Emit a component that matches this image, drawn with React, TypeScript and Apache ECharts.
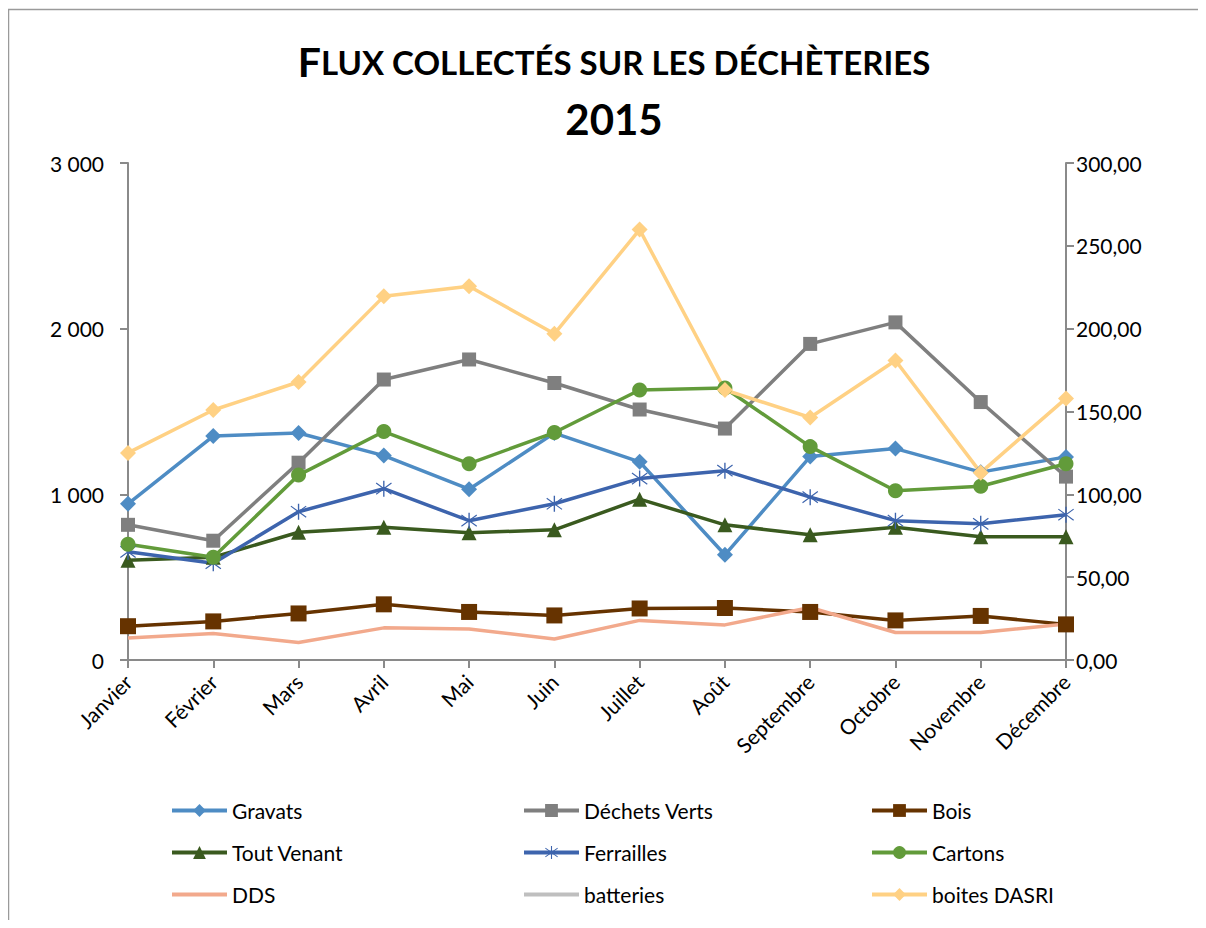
import React, { useEffect, useRef } from "react";
import * as echarts from "echarts";

const months = ["Janvier", "Février", "Mars", "Avril", "Mai", "Juin", "Juillet", "Août", "Septembre", "Octobre", "Novembre", "Décembre"];

const gravats = [943, 1352, 1370, 1234, 1031, 1370, 1196, 635, 1228, 1276, 1134, 1226];
const dechetsVerts = [816, 720, 1191, 1693, 1814, 1672, 1512, 1397, 1908, 2038, 1557, 1107];
const bois = [204, 233, 281, 336, 290, 269, 311, 314, 290, 239, 266, 215];
const toutVenant = [602, 620, 771, 801, 768, 786, 971, 816, 756, 801, 744, 744];
const ferrailles = [653, 584, 895, 1034, 841, 943, 1095, 1143, 983, 841, 822, 877];
const cartons = [699, 620, 1116, 1379, 1185, 1373, 1630, 1642, 1288, 1022, 1049, 1185];
const dds = [133, 160, 106, 194, 187, 127, 239, 212, 317, 166, 166, 218];
const batteries: (number | null)[] = [null, null, null, null, null, null, null, null, null, null, null, null]; // not visible in the picture
const boitesDasri = [125.0, 150.9, 167.8, 219.5, 225.6, 196.9, 259.8, 163.0, 146.4, 180.8, 113.1, 157.9];

const leftTicks = { min: 0, max: 3000, interval: 1000 };
const rightTicks = { min: 0, max: 300, interval: 50 };

const STAR = "path://M9.2,0 L10.8,0 L10.8,20 L9.2,20 Z M0.6,3.6 L1.4,2.4 L19.4,16.4 L18.6,17.6 Z M18.6,2.4 L19.4,3.6 L1.4,17.6 L0.6,16.4 Z";

const FONT = "Lato";

function mk(name: string, data: (number | null)[], color: string, symbol: string, symbolSize: number, yAxisIndex = 0) {
  return {
    name,
    type: "line",
    data,
    yAxisIndex,
    symbol,
    symbolSize,
    showSymbol: symbol !== "none",
    lineStyle: { color, width: 3.5 },
    itemStyle: { color, borderWidth: 0 },
    emphasis: { disabled: true },
  };
}

export default function App() {
  const ref = useRef<HTMLDivElement>(null);
  useEffect(() => {
    if (!ref.current) return;
    const chart = echarts.init(ref.current, null, { renderer: "svg" });
    const axisColor = "#8a8a8a";
    const axisLine = { show: true, lineStyle: { color: axisColor, width: 2 } };
    const axisTick = { show: true, length: 8, lineStyle: { color: axisColor, width: 2 } };
    const axisLabelStyle = { color: "#000", fontFamily: FONT, fontSize: 21 };
    const legendText = { color: "#000", fontFamily: FONT, fontSize: 21, lineHeight: 20 };
    const legendCommon = {
      orient: "vertical",
      top: 787,
      itemWidth: 55,
      itemHeight: 16,
      itemGap: 21,
      textStyle: legendText,
      lineStyle: { width: 4 },
      selectedMode: false,
    };
    const noSymbol = { itemStyle: { opacity: 0 } };
    chart.setOption({
      animation: false,
      backgroundColor: "#fff",
      graphic: [
        {
          type: "polyline",
          shape: { points: [[0.5, 1000], [0.5, 1.5], [1300, 1.5]] },
          style: { fill: "none", stroke: "#9a9a9a", lineWidth: 1.5 },
          silent: true,
        },
      ],
      title: [
        {
          text: "{a|F}{b|LUX COLLECTÉS SUR LES DÉCHÈTERIES}",
          left: 601,
          textAlign: "center",
          top: 28,
          textStyle: {
            rich: {
              a: { fontFamily: FONT, fontWeight: "bold", fontSize: 41, color: "#000" },
              b: { fontFamily: FONT, fontWeight: "bold", fontSize: 33, color: "#000" },
            },
          },
        },
        {
          text: "2015",
          left: 601,
          textAlign: "center",
          top: 85,
          textStyle: { fontFamily: FONT, fontWeight: "bold", fontSize: 42, color: "#000" },
        },
      ],
      grid: { left: 120, top: 155, width: 938, height: 497, containLabel: false },
      xAxis: {
        type: "category",
        data: months,
        boundaryGap: false,
        axisLine,
        axisTick,
        axisLabel: { ...axisLabelStyle, rotate: 45, margin: 18, interval: 0 },
        splitLine: { show: false },
      },
      yAxis: [
        {
          type: "value",
          ...leftTicks,
          axisLine,
          axisTick,
          axisLabel: {
            ...axisLabelStyle,
            margin: 24,
            formatter: (v: number) => (v === 0 ? "0" : String(v).replace(/\B(?=(\d{3})+(?!\d))/g, " ")),
          },
          splitLine: { show: false },
        },
        {
          type: "value",
          ...rightTicks,
          position: "right",
          axisLine,
          axisTick,
          axisLabel: {
            ...axisLabelStyle,
            margin: 10,
            formatter: (v: number) => v.toFixed(2).replace(".", ","),
          },
          splitLine: { show: false },
        },
      ],
      legend: [
        { ...legendCommon, left: 157, data: ["Gravats", "Tout Venant", { name: "DDS", ...noSymbol }] },
        { ...legendCommon, left: 509, data: ["Déchets Verts", "Ferrailles", { name: "batteries", ...noSymbol }] },
        { ...legendCommon, left: 857, data: ["Bois", "Cartons", "boites DASRI"] },
      ],
      series: [
        mk("Gravats", gravats, "#4e8cc4", "diamond", 16),
        mk("Déchets Verts", dechetsVerts, "#7f7f7f", "rect", 14),
        mk("Bois", bois, "#663300", "rect", 16),
        mk("Tout Venant", toutVenant, "#3a5a1f", "triangle", 15),
        mk("Ferrailles", ferrailles, "#3d64ad", STAR, 16),
        mk("Cartons", cartons, "#629b3a", "circle", 15),
        mk("DDS", dds, "#f2a98c", "none", 0),
        mk("batteries", batteries, "#bfbfbf", "none", 0),
        mk("boites DASRI", boitesDasri, "#ffd184", "diamond", 16, 1),
      ],
    });
    return () => chart.dispose();
  }, []);
  return <div ref={ref} style={{ width: 1190, height: 912 }} />;
}
